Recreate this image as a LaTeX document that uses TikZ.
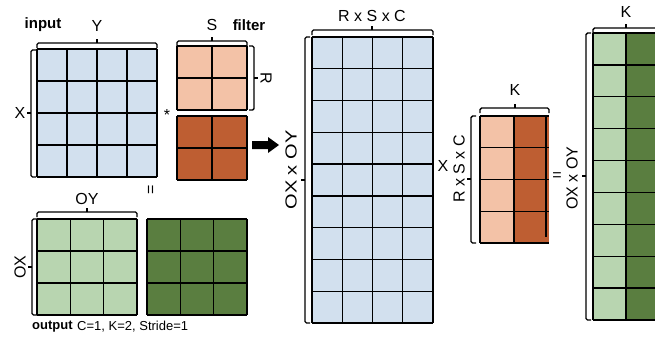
\documentclass[tikz,border=0pt]{standalone}
\usepackage{fontspec}
\setmainfont{Liberation Sans}
\definecolor{cblue}{RGB}{210,224,238}
\definecolor{csalmon}{RGB}{243,194,167}
\definecolor{cbrown}{RGB}{190,94,50}
\definecolor{clgreen}{RGB}{184,213,176}
\definecolor{cdgreen}{RGB}{90,126,64}
\tikzset{
  gl/.style={line width=1.4pt, black},
  br/.style={line width=1.4pt, black, rounded corners=1.5pt},
  lbl/.style={inner sep=0pt, font=\fontsize{16}{16}\selectfont},
  blbl/.style={inner sep=0pt, font=\fontsize{15}{15}\selectfont\bfseries},
  slbl/.style={inner sep=0pt, font=\fontsize{13}{13}\selectfont},
}
% matrix: x0 y0 x1 y1 ncols nrows color
\newcommand\mymtx[7]{%
  \fill[#7] (#1,#2) rectangle (#3,#4);
  \foreach \i in {0,...,#5} \draw[gl] ({#1+(#3-#1)*\i/#5},#2) -- ({#1+(#3-#1)*\i/#5},#4);
  \foreach \j in {0,...,#6} \draw[gl] (#1,{#2+(#4-#2)*\j/#6}) -- (#3,{#2+(#4-#2)*\j/#6});
}
% top brace: x0 x1 y xm
\newcommand\topbr[4]{%
  \draw[br] (#1,#3+5) -- (#1,#3) -- (#2,#3) -- (#2,#3+5);
  \draw[gl] (#4,#3) -- (#4,#3-4);
}
% left brace: x y0 y1 ym (tick to the left)
\newcommand\leftbr[4]{%
  \draw[br] (#1+5,#2) -- (#1,#2) -- (#1,#3) -- (#1+5,#3);
  \draw[gl] (#1,#4) -- (#1-4,#4);
}
\begin{document}
\begin{tikzpicture}[x=1pt,y=-1pt]
\useasboundingbox (0,0) rectangle (655,341);
\clip (0,0) rectangle (655,341);

% input
\mymtx{37}{49}{157}{177}{4}{4}{cblue}
\topbr{37}{157}{43}{97}
\leftbr{31}{50}{177}{113}
\node[blbl] (tin) at (43,25) {input};
\node[lbl] (tY) at (97,26) {Y};
\node[lbl] (tX) at (20,113) {X};

% filters
\mymtx{177}{46}{247}{110}{2}{2}{csalmon}
\mymtx{177}{116}{247}{180}{2}{2}{cbrown}
\topbr{177}{247}{41}{212}
\draw[br] (249,46) -- (254,46) -- (254,110) -- (249,110);
\draw[gl] (254,78) -- (258,78);
\node[lbl] (tS) at (212,25) {S};
\node[blbl] (tfil) at (249,25) {filter};
\node[lbl, rotate=-90] (tR) at (266,78) {R};
\node[lbl] (tstar) at (167,115) {*};
\node[lbl, rotate=90] (teq1) at (152,190) {=};

% output
\mymtx{37}{219}{137}{315}{3}{3}{clgreen}
\mymtx{147}{219}{247}{315}{3}{3}{cdgreen}
\topbr{37}{137}{212}{87}
\leftbr{32}{219}{315}{267}
\node[lbl] (tOY) at (87,199) {OY};
\node[lbl, rotate=90] (tOX) at (20,267) {OX};
\node[blbl, font=\fontsize{13}{13}\selectfont\bfseries, anchor=west] (tout) at (32,327) {output};
\node[slbl, anchor=west] (tcfg) at (77,327) {C=1, K=2, Stride=1};

% arrow
\fill[black] (252,141) -- (268,141) -- (268,137) -- (279,145) -- (268,153) -- (268,149) -- (252,149) -- cycle;

% big blue
\mymtx{312}{37}{433}{323}{4}{9}{cblue}
\topbr{312}{433}{30}{372}
\leftbr{305}{37}{323}{180}
\node[lbl] (tRSC1) at (372,16) {R x S x C};
\node[lbl, rotate=90] (tOXOY1) at (291,170) {\scalebox{1.25}[1]{OX x OY}};

% filter column
\fill[csalmon] (480,116) rectangle (514,243);
\fill[cbrown] (514,116) rectangle (549,243);
\foreach \j in {0,...,4} \draw[gl] (480,{116+127*\j/4}) -- (549,{116+127*\j/4});
\draw[gl] (480,116) -- (480,243);
\draw[gl] (514,116) -- (514,243);
\draw[gl] (546,116) -- (546,237);
\topbr{480}{549}{108}{515}
\leftbr{471}{116}{243}{179}
\node[lbl] (tK1) at (515,90) {K};
\node[lbl, rotate=90] (tRSC2) at (459,169) {R x S x C};
\node[lbl] (tx) at (443,166) {X};
\node[lbl] (teq2) at (557,177) {=};

% big output
\mymtx{593}{33}{626}{320}{1}{9}{clgreen}
\mymtx{626}{33}{659}{320}{1}{9}{cdgreen}
\draw[br] (593,33) -- (593,28) -- (665,28);
\draw[gl] (626,28) -- (626,24);
\leftbr{586}{33}{320}{176}
\node[lbl] (tK2) at (626,12) {K};
\node[lbl, rotate=90] (tOXOY2) at (572,178) {OX x OY};
\end{tikzpicture}
\end{document}
